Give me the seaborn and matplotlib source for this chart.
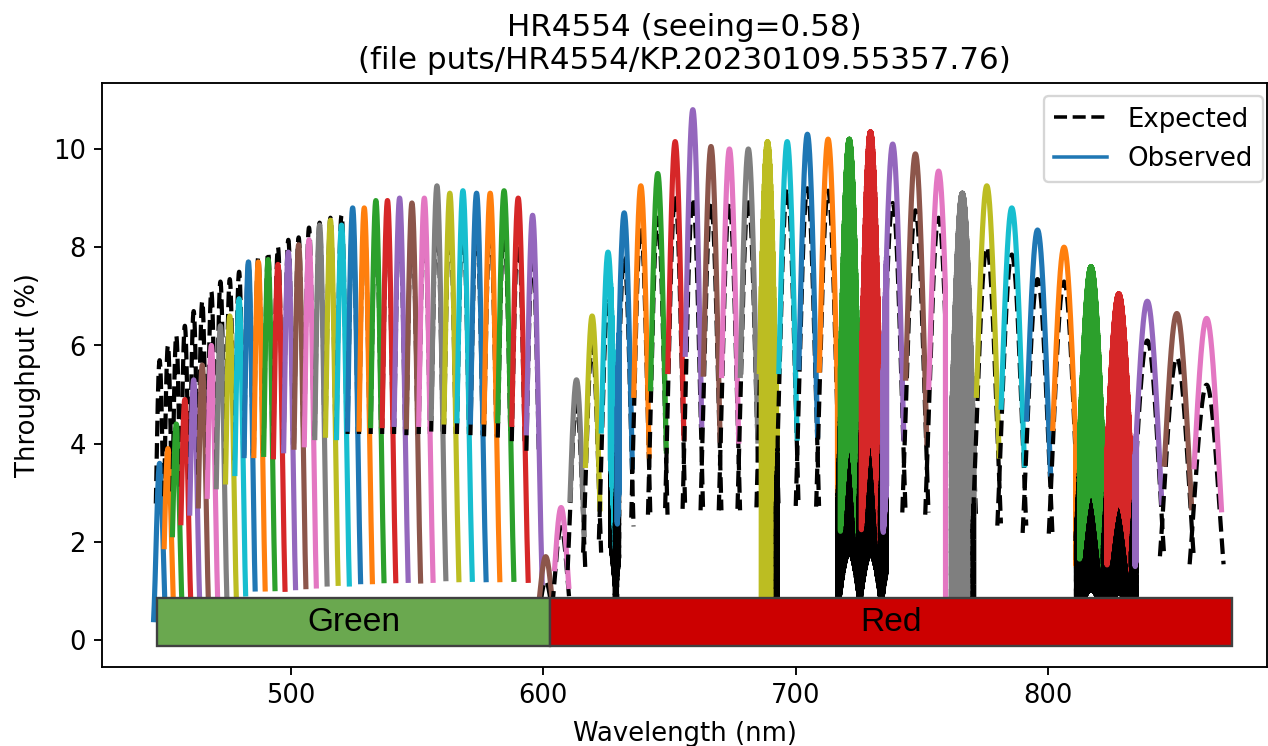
import numpy as np
import matplotlib
matplotlib.use("Agg")
import matplotlib.pyplot as plt
import seaborn as sns
from matplotlib.patches import Rectangle
from matplotlib.lines import Line2D

# ---------------- data ----------------
# order peak wavelengths (nm)
green_centers = [447.9, 451.2, 454.5, 457.9, 461.4, 464.8, 468.4, 472.0, 475.7, 479.4,
                 483.1, 487.0, 490.9, 494.8, 498.9, 503.0, 507.1, 511.3, 515.6, 520.0,
                 524.4, 529.0, 533.6, 538.2, 543.0, 547.9, 552.8, 557.8, 562.9, 568.1,
                 573.5, 578.9, 584.4, 590.0, 595.7]
green_obs_peak = [3.6, 3.9, 4.4, 4.9, 5.3, 5.6, 6.0, 6.4, 6.6, 6.95,
                  7.7, 7.7, 7.75, 7.65, 7.9, 8.05, 8.15, 8.45, 8.55, 8.45,
                  8.8, 8.8, 8.95, 8.95, 9.0, 8.9, 9.0, 9.25, 9.1, 9.15,
                  9.1, 9.1, 9.15, 9.0, 8.65]
green_exp_peak = [5.7, 6.0, 6.2, 6.4, 6.7, 6.9, 7.1, 7.3, 7.35, 7.5,
                  7.7, 7.8, 7.9, 8.0, 8.15, 8.2, 8.4, 8.5, 8.6, 8.65,
                  8.6, 8.6, 8.6, 8.6, 8.6, 8.55, 8.6, 8.7, 8.6, 8.6,
                  8.55, 8.5, 8.45, 8.3, 7.9]
red_centers = [600.9, 607.0, 613.1, 619.3, 625.6, 632.0, 638.6, 645.3, 652.2, 659.2,
               666.4, 673.7, 681.2, 688.8, 696.6, 704.6, 712.8, 721.2, 729.6, 738.4,
               747.4, 756.6, 766.0, 775.7, 785.6, 795.8, 806.3, 817.0, 828.0, 839.3,
               851.0, 862.8]
red_obs_peak = [1.7, 2.7, 5.3, 6.6, 7.9, 8.7, 9.25, 9.5, 10.15, 10.8,
                10.05, 10.0, 10.0, 10.15, 10.15, 10.3, 10.2, 10.2, 10.35, 10.1,
                9.9, 9.55, 9.1, 9.25, 8.8, 8.35, 8.0, 7.6, 7.05, 6.9,
                6.65, 6.55]
red_exp_peak = [1.2, 2.3, 4.8, 6.0, 6.9, 7.8, 8.4, 8.6, 9.05, 9.0,
                8.9, 8.9, 9.0, 9.1, 9.2, 9.2, 9.15, 8.9, 8.7, 8.9,
                8.75, 8.6, 8.4, 8.0, 7.85, 7.35, 7.3, 6.8, 6.3, 6.1,
                5.75, 5.2]

# absorption bands (nm) and their depth in observed / expected curves
band_start = [626.5, 686.3, 716.5, 761.5, 811.0]
band_end = [630.0, 692.8, 736.0, 770.5, 835.0]
band_obs_depth = [0.5, 1.0, 0.6, 1.0, 0.6]
band_exp_depth = [0.7, 1.0, 0.8, 1.0, 0.85]
# fully saturated stretch (band head)
sat_start = [759.3]
sat_end = [761.5]

arm_names = ["Green", "Red"]
arm_start = [447.0, 602.7]
arm_end = [602.7, 872.8]
arm_colors = ["#6aa84f", "#cc0000"]

title_lines = ["HR4554 (seeing=0.58)", "(file puts/HR4554/KP.20230109.55357.76)"]
x_ticks = [500, 600, 700, 800]
y_ticks = [0, 2, 4, 6, 8, 10]

# ---------------- figure ----------------
DPI = 169
W, H = 1268, 746
plt.rcParams.update({"font.size": 11, "xtick.labelsize": 11, "ytick.labelsize": 11,
                     "axes.labelsize": 11, "legend.fontsize": 11.1})
fig = plt.figure(figsize=(W / DPI + 0.001, H / DPI + 0.001), dpi=DPI)
ax = fig.add_axes([102.3 / W, (H - 666.7) / H, (1266.5 - 102.3) / W, (666.7 - 83.3) / H])

centers = np.array(green_centers + red_centers)
obs_peaks = green_obs_peak + red_obs_peak
exp_peaks = green_exp_peak + red_exp_peak
spacing = np.gradient(centers)
n_green = len(green_centers)
palette = sns.color_palette("tab10", 10)


def order_curve(c, s, peak, u_lo, u_hi, depths, n=360):
    u = np.linspace(u_lo, u_hi, n)
    lam = c + u * s
    y = peak * np.sinc(u) ** 2
    alt = (np.arange(n) % 2) == 1
    for lo, hi, d in zip(band_start, band_end, depths):
        m = (lam >= lo) & (lam <= hi) & alt
        y[m] *= (1.0 - d)
    for lo, hi in zip(sat_start, sat_end):
        y[(lam >= lo) & (lam <= hi)] = 0.0
    return lam, y


for i, c in enumerate(centers):
    green = i < n_green
    s = spacing[i]
    if green:
        e_lo, e_hi, o_lo, o_hi = -0.45, 0.45, -0.45, 0.7
        if i == 0:
            o_lo = -0.72
    else:
        e_lo, e_hi, o_lo, o_hi = -0.57, 0.57, -0.42, 0.5
    lx, ly = order_curve(c, s, exp_peaks[i], e_lo, e_hi, band_exp_depth)
    sns.lineplot(x=lx, y=ly, ax=ax, color="black", linestyle="--", lw=1.8,
                 estimator=None, sort=False, legend=False)
    ox, oy = order_curve(c, s, obs_peaks[i], o_lo, o_hi, band_obs_depth)
    sns.lineplot(x=ox, y=oy, ax=ax, color=palette[i % 10], lw=2.2,
                 estimator=None, sort=False, legend=False)

# detector arm bars
for name, a0, a1, col in zip(arm_names, arm_start, arm_end, arm_colors):
    ax.add_patch(Rectangle((a0, -0.12), a1 - a0, 0.97, facecolor=col,
                           edgecolor="#404040", lw=1.0, zorder=5))
    ax.text((a0 + a1) / 2, 0.36, name, ha="center", va="center",
            fontsize=14.3, family="Liberation Sans", color="black", zorder=6)

ax.set_xlim(425.2, 886.6)
ax.set_ylim(-0.54, 11.34)
ax.set_xticks(x_ticks)
ax.set_yticks(y_ticks)
ax.set_xlabel("Wavelength (nm)", labelpad=5)
ax.set_ylabel("Throughput (%)", labelpad=5)
ax.set_title("\n".join(title_lines), fontsize=13.2)

handles = [Line2D([], [], color="black", linestyle="--", lw=1.5),
           Line2D([], [], color=palette[0], lw=1.5)]
ax.legend(handles, ["Expected", "Observed"], loc="upper right",
          bbox_to_anchor=(1.0082, 1.0))

fig.savefig("out.png", dpi=DPI)
